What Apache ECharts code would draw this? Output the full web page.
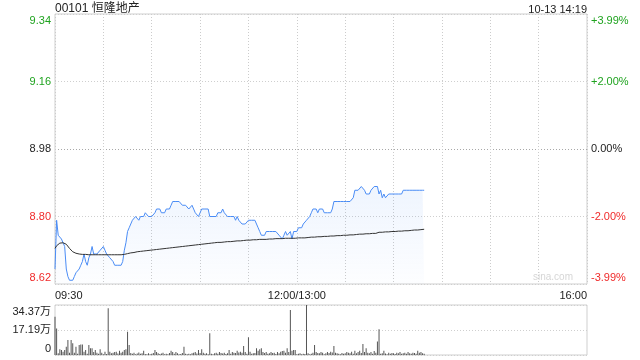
<!DOCTYPE html>
<html><head><meta charset="utf-8">
<script src="https://cdn.jsdelivr.net/npm/echarts@6/dist/echarts.min.js"></script>
<style>html,body{margin:0;padding:0;background:#fff}#c{width:640px;height:360px}</style>
</head><body><div id="c"></div>
<script>
const titleText = '00101 恒隆地产';
const stampText = '10-13 14:19';
const watermark = 'sina.com';
const priceMin = 8.62, priceMax = 9.34;
const priceTickLabels = ['8.62','8.80','8.98','9.16','9.34'];
const pctTickLabels = ['-3.99%','-2.00%','0.00%','+2.00%','+3.99%'];
const timeTickLabels = {0:'09:30',150:'12:00/13:00',330:'16:00'};
const volTickLabels = ['0','17.19万','34.37万'];

const price = [
8.66,8.79,8.75,8.75,8.74,8.73,8.72,8.66,8.64,8.63,
8.63,8.63,8.64,8.65,8.65,8.66,8.67,8.68,8.70,8.68,
8.67,8.69,8.70,8.72,8.70,8.70,8.70,8.70,8.71,8.71,
8.72,8.71,8.70,8.70,8.69,8.69,8.68,8.67,8.67,8.67,
8.67,8.67,8.68,8.71,8.73,8.76,8.77,8.78,8.79,8.79,
8.80,8.80,8.79,8.80,8.80,8.80,8.81,8.81,8.80,8.80,
8.80,8.80,8.81,8.82,8.82,8.82,8.81,8.81,8.81,8.82,
8.82,8.82,8.83,8.84,8.84,8.84,8.84,8.84,8.84,8.83,
8.83,8.83,8.83,8.82,8.82,8.83,8.82,8.81,8.81,8.80,
8.81,8.82,8.82,8.82,8.82,8.82,8.80,8.80,8.80,8.80,
8.80,8.81,8.81,8.81,8.82,8.81,8.81,8.80,8.80,8.80,
8.80,8.80,8.79,8.80,8.79,8.79,8.78,8.78,8.78,8.78,
8.79,8.79,8.79,8.79,8.79,8.78,8.77,8.76,8.75,8.75,
8.75,8.76,8.76,8.76,8.76,8.76,8.76,8.76,8.76,8.75,
8.75,8.74,8.75,8.76,8.75,8.75,8.76,8.74,8.76,8.76,
8.76,8.77,8.77,8.77,8.78,8.78,8.79,8.79,8.80,8.81,
8.82,8.82,8.82,8.81,8.82,8.82,8.82,8.81,8.81,8.81,
8.81,8.81,8.82,8.84,8.84,8.84,8.84,8.84,8.84,8.84,
8.84,8.84,8.84,8.84,8.84,8.85,8.87,8.87,8.87,8.87,
8.88,8.88,8.87,8.86,8.86,8.86,8.87,8.87,8.88,8.88,
8.88,8.86,8.87,8.85,8.86,8.85,8.85,8.86,8.86,8.86,
8.86,8.86,8.86,8.86,8.86,8.86,8.87,8.87,8.87,8.87,
8.87,8.87,8.87,8.87,8.87,8.87,8.87,8.87,8.87,8.87
];

const avgPrice = [
8.715,8.722,8.727,8.729,8.730,8.730,8.729,8.726,8.721,8.715,8.710,8.706,8.704,8.702,8.701,8.700,8.700,8.699,
8.699,8.699,8.698,8.698,8.698,8.698,8.698,8.698,8.698,8.698,8.698,8.698,8.698,8.698,8.698,8.698,8.698,8.698,8.698,8.698,8.698,8.698,8.698,8.698,
8.699,8.699,8.700,8.701,8.702,8.703,8.704,8.704,8.705,8.706,8.706,8.707,8.707,8.708,8.708,8.709,8.709,8.710,8.710,
8.711,8.711,8.712,8.712,8.713,8.713,8.714,8.714,8.715,8.715,8.716,8.716,8.717,8.717,8.718,8.718,8.719,8.719,8.720,8.720,
8.721,8.721,8.722,8.722,8.723,8.723,8.724,8.724,8.725,8.725,8.726,8.726,8.727,8.727,8.728,8.728,8.729,8.729,8.730,8.730,
8.731,8.731,8.731,8.732,8.732,8.732,8.733,8.733,8.733,8.734,8.734,8.734,8.735,8.735,8.735,8.736,8.736,8.736,8.737,8.737,
8.737,8.737,8.738,8.738,8.738,8.738,8.739,8.739,8.739,8.739,8.739,8.740,8.740,8.740,8.740,8.740,8.741,8.741,8.741,8.741,8.741,8.741,8.742,8.742,8.742,8.742,8.742,8.742,8.742,8.742,
8.743,8.743,8.743,8.743,8.743,8.744,8.744,8.744,8.745,8.745,8.745,8.745,8.746,8.746,8.746,8.746,8.747,8.747,8.747,8.747,8.748,8.748,8.748,8.748,8.749,8.749,8.749,8.749,8.750,8.750,
8.750,8.750,8.751,8.751,8.751,8.752,8.752,8.752,8.753,8.753,8.753,8.754,8.754,8.754,8.754,8.755,8.755,8.755,8.755,
8.757,8.758,8.758,8.758,8.759,8.759,8.759,8.759,8.760,8.760,8.760,8.760,8.761,8.761,8.761,8.761,8.762,8.762,8.762,8.762,8.763,8.763,8.763,8.764,8.764,8.764,8.765,8.765,8.766,8.766
];

const volume = [
263000,183000,12000,39000,34000,23000,34000,57000,103000,15000,
103000,80000,16000,57000,8000,69000,73000,73000,23000,34000,
9000,69000,46000,46000,20000,34000,16000,8000,39000,16000,
6000,23000,7000,321000,23000,12000,16000,20000,23000,10000,
30000,16000,22000,34000,39000,160000,69000,14000,9000,16000,
6000,10000,18000,8000,12000,30000,7000,5000,12000,6000,
9000,14000,34000,20000,12000,7000,10000,16000,5000,9000,
6000,14000,30000,20000,8000,20000,12000,5000,7000,14000,
57000,8000,5000,9000,6000,12000,16000,20000,10000,34000,
14000,39000,16000,8000,12000,6000,149000,8000,6000,12000,
16000,9000,20000,14000,10000,16000,7000,12000,34000,9000,
20000,16000,14000,30000,18000,23000,16000,62000,20000,8000,
122000,23000,9000,12000,14000,46000,30000,40000,46000,20000,
14000,20000,8000,12000,20000,14000,16000,7000,20000,12000,
23000,27000,30000,16000,46000,20000,309000,30000,34000,34000,
6000,8000,12000,6000,9000,7000,343700,12000,6000,8000,
16000,69000,20000,14000,12000,20000,16000,6000,12000,20000,
14000,23000,18000,62000,16000,12000,8000,6000,14000,9000,
12000,20000,16000,12000,23000,9000,30000,12000,20000,30000,
14000,76000,20000,46000,16000,12000,20000,9000,27000,16000,
92000,177000,8000,12000,30000,10000,6000,16000,9000,14000,
12000,7000,16000,12000,20000,9000,12000,16000,8000,20000,
12000,9000,16000,14000,8000,30000,16000,20000,12000,9000
];

const GREEN = '#1fa31f', RED = '#f02a2a', BLACK = '#222';
const FONT = '"Liberation Sans", Arial, "Noto Sans CJK SC", sans-serif';
const richBase = (color) => ({color, fontSize: 11, fontFamily: FONT});
const rich = {
  t: Object.assign(richBase(GREEN), {padding: [14, 0, 0, 0]}),
  g: richBase(GREEN),
  k: richBase(BLACK),
  r: richBase(RED),
  b: Object.assign(richBase(RED), {padding: [0, 0, 12, 0]})
};
const styleKeys = ['b', 'r', 'k', 'g', 't'];
const volMax = Math.max.apply(null, volume);
const volRich = {
  t: Object.assign(richBase(BLACK), {padding: [14, 0, 0, 0]}),
  k: richBase(BLACK),
  b: Object.assign(richBase(BLACK), {padding: [0, 0, 12, 0]})
};
const volKeys = ['b', 'k', 't'];
const dotted = [1, 2];

const chart = echarts.init(document.getElementById('c'), null, {renderer: 'canvas'});
chart.setOption({
  animation: false,
  textStyle: {fontFamily: FONT},
  title: [
    {text: titleText, left: 55, top: 3, padding: 0, textStyle: {fontSize: 12, fontWeight: 'normal', color: '#222', fontFamily: FONT}},
    {text: stampText, right: 53, top: 4, padding: 0, textStyle: {fontSize: 11, fontWeight: 'normal', color: '#222', fontFamily: FONT}}
  ],
  graphic: [{
    type: 'text', right: 67, top: 272, silent: true,
    style: {text: watermark, fill: '#d6d6d6', fontSize: 10, fontFamily: FONT}
  }],
  grid: [
    {left: 55, right: 53, top: 14, bottom: 76, show: true, borderColor: '#cfcfcf', borderWidth: 1},
    {left: 55, right: 53, top: 305, height: 50, show: true, borderColor: '#cfcfcf', borderWidth: 1}
  ],
  xAxis: [
    {gridIndex: 0, type: 'value', min: 0, max: 330, interval: 30,
     axisLine: {show: false}, axisTick: {show: false},
     splitLine: {show: true, lineStyle: {type: dotted, color: '#cccccc'}},
     axisLabel: {show: true, margin: 6, fontSize: 11, color: '#222', fontFamily: FONT,
       showMinLabel: true, showMaxLabel: true, alignMinLabel: 'left', alignMaxLabel: 'right',
       formatter: (v) => timeTickLabels[v] || ''}},
    {gridIndex: 1, type: 'value', min: 0, max: 330, interval: 30, show: false}
  ],
  yAxis: [
    {gridIndex: 0, type: 'value', position: 'left', min: 0, max: 4, interval: 1,
     axisLine: {show: false}, axisTick: {show: false},
     splitLine: {show: true, lineStyle: {type: dotted, color: ['#cfcfcf', '#cfcfcf', '#a8a8a8', '#cfcfcf', '#cfcfcf']}},
     axisLabel: {margin: 4, showMinLabel: true, showMaxLabel: true, rich,
       formatter: (v) => { const i = Math.round(v); return '{' + styleKeys[i] + '|' + priceTickLabels[i] + '}'; }}},
    {gridIndex: 0, type: 'value', position: 'right', min: 0, max: 4, interval: 1,
     axisLine: {show: false}, axisTick: {show: false}, splitLine: {show: false},
     axisLabel: {margin: 4, showMinLabel: true, showMaxLabel: true, rich,
       formatter: (v) => { const i = Math.round(v); return '{' + styleKeys[i] + '|' + pctTickLabels[i] + '}'; }}},
    {gridIndex: 0, type: 'value', min: priceMin, max: priceMax, show: false},
    {gridIndex: 1, type: 'value', position: 'left', min: 0, max: volMax, interval: volMax / 2,
     axisLine: {show: false}, axisTick: {show: false},
     splitLine: {show: true, lineStyle: {type: dotted, color: '#cfcfcf'}},
     axisLabel: {margin: 4, showMinLabel: true, showMaxLabel: true, rich: volRich,
       formatter: (v) => { const i = Math.round(v / (volMax / 2)); return '{' + volKeys[i] + '|' + volTickLabels[i] + '}'; }}}
  ],
  series: [
    {type: 'line', xAxisIndex: 0, yAxisIndex: 2, symbol: 'none', z: 4,
     data: price.map((v, i) => [i, v]),
     lineStyle: {color: '#4a8cf5', width: 1},
     areaStyle: {origin: 'start', color: new echarts.graphic.LinearGradient(0, 0, 0, 1, [
       {offset: 0, color: 'rgba(74,140,245,0.13)'}, {offset: 1, color: 'rgba(74,140,245,0.02)'}])}},
    {type: 'line', xAxisIndex: 0, yAxisIndex: 2, symbol: 'none', z: 5,
     data: avgPrice.map((v, i) => [i, v]),
     lineStyle: {color: '#333', width: 1}},
    {type: 'bar', xAxisIndex: 1, yAxisIndex: 3, barWidth: 1,
     data: volume.map((v, i) => [i, v]),
     itemStyle: {color: '#555'}}
  ]
});
</script>
</body></html>
